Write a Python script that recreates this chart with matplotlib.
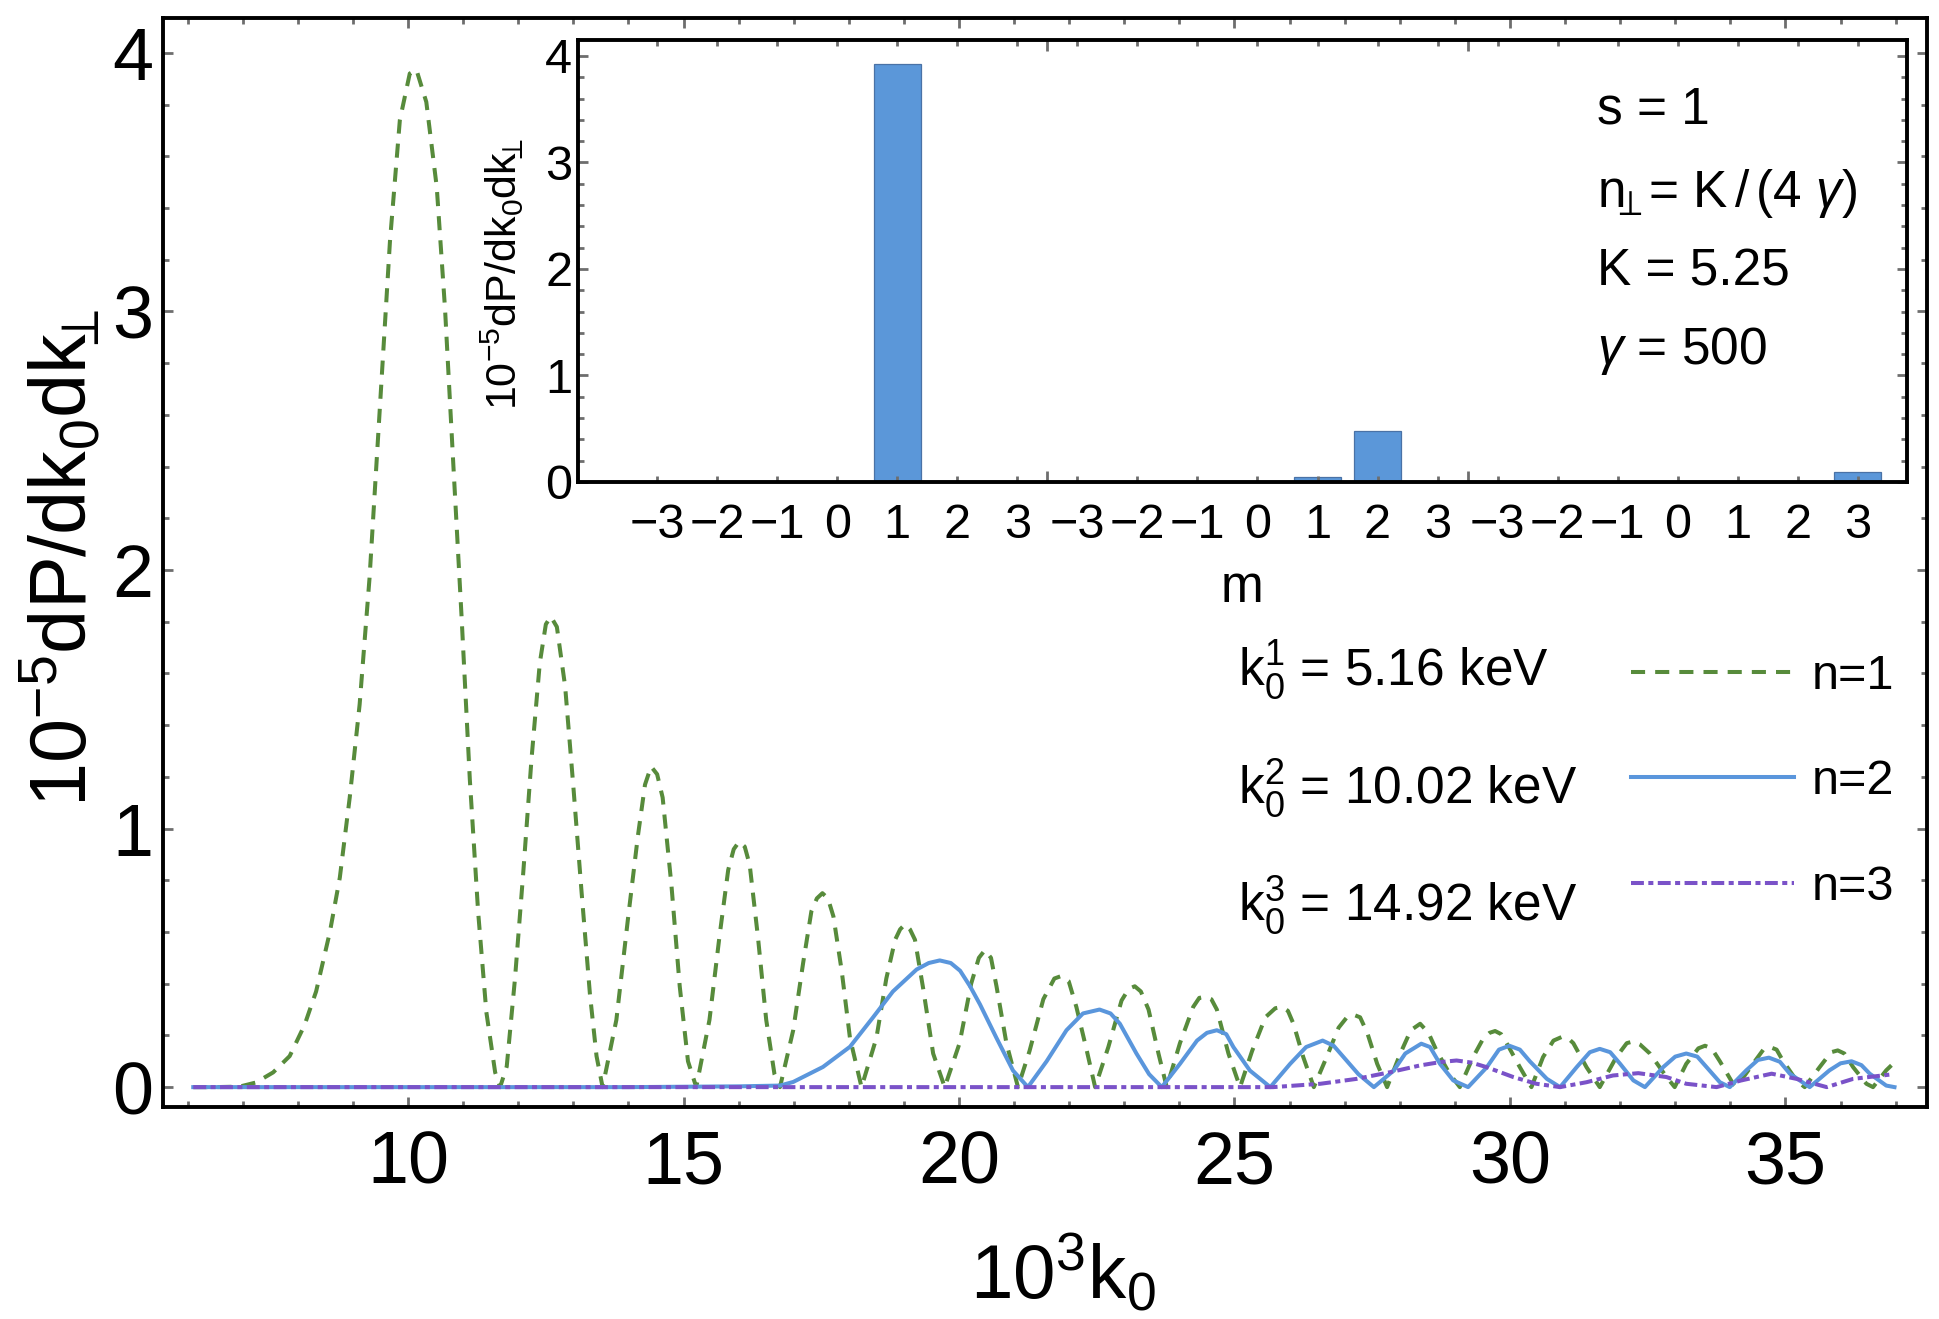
import matplotlib
matplotlib.use("Agg")
import matplotlib.pyplot as plt
from matplotlib.ticker import FixedLocator

plt.rcParams['font.family'] = ['Liberation Sans', 'DejaVu Sans']
plt.rcParams['mathtext.fontset'] = 'custom'
plt.rcParams['mathtext.rm'] = 'Liberation Sans'
plt.rcParams['mathtext.it'] = 'Liberation Sans:italic'
plt.rcParams['mathtext.sf'] = 'Liberation Sans'
plt.rcParams['mathtext.bf'] = 'Liberation Sans:bold'

# ---------------- data ----------------
n1_x = [6.1, 6.5, 6.94, 7.24, 7.55, 7.85, 8.12, 8.33, 8.58, 8.76, 8.94, 9.12, 9.30, 9.48,
        9.67, 9.85, 10.03, 10.15, 10.33, 10.52, 10.67, 10.82, 10.97, 11.12, 11.27, 11.42,
        11.58, 11.67, 11.79, 11.94, 12.09, 12.24, 12.39, 12.50, 12.59, 12.70, 12.85, 13.0,
        13.15, 13.3, 13.42, 13.53, 13.78, 13.99, 14.17, 14.30, 14.41, 14.52, 14.62, 14.78,
        14.93, 15.08, 15.23, 15.47, 15.65, 15.81, 15.91, 16.01, 16.11, 16.2, 16.35, 16.5,
        16.65, 16.75, 16.99, 17.17, 17.32, 17.42, 17.52, 17.62, 17.72, 17.87, 18.02, 18.23,
        18.5, 18.68, 18.84, 18.93, 19.02, 19.11, 19.2, 19.35, 19.53, 19.74, 20.01, 20.22,
        20.36, 20.47, 20.58, 20.68, 20.86, 21.07, 21.28, 21.53, 21.73, 21.86, 21.99, 22.13,
        22.32, 22.47, 22.71, 22.95, 23.08, 23.19, 23.30, 23.44, 23.62, 23.77, 24.01, 24.25,
        24.36, 24.47, 24.58, 24.68, 24.89, 25.1, 25.32, 25.56, 25.74, 25.86, 25.97, 26.07,
        26.25, 26.44, 26.68, 26.89, 27.04, 27.16, 27.28, 27.41, 27.59, 27.77, 28.01, 28.2,
        28.37, 28.52, 28.67, 28.91, 29.09, 29.33, 29.52, 29.63, 29.73, 29.84, 29.94, 30.18,
        30.39, 30.6, 30.79, 30.94, 31.05, 31.15, 31.39, 31.63, 31.93, 32.12, 32.24, 32.36,
        32.54, 32.84, 32.99, 33.2, 33.42, 33.54, 33.66, 33.81, 34.05, 34.11, 34.41, 34.60,
        34.72, 34.84, 34.96, 35.2, 35.35, 35.62, 35.83, 35.95, 36.07, 36.23, 36.47, 36.59,
        36.83, 37.0]
n1_y = [0.0, 0.0, 0.002, 0.018, 0.057, 0.12, 0.24, 0.37, 0.60, 0.81, 1.12, 1.48, 1.97, 2.60,
        3.27, 3.74, 3.92, 3.935, 3.81, 3.48, 3.01, 2.41, 1.82, 1.19, 0.68, 0.29,
        0.057, 0.0, 0.08, 0.42, 0.83, 1.27, 1.64, 1.79, 1.82, 1.78, 1.55, 1.16,
        0.75, 0.36, 0.12, 0.0, 0.26, 0.65, 0.97, 1.17, 1.24, 1.21, 1.12, 0.78,
        0.39, 0.10, 0.0, 0.26, 0.58, 0.84, 0.92, 0.95, 0.93, 0.86, 0.58, 0.26,
        0.05, 0.0, 0.22, 0.48, 0.68, 0.73, 0.75, 0.73, 0.66, 0.45, 0.19, 0.0,
        0.19, 0.42, 0.57, 0.61, 0.63, 0.61, 0.57, 0.38, 0.13, 0.0, 0.17, 0.40,
        0.50, 0.53, 0.50, 0.39, 0.17, 0.0, 0.14, 0.34, 0.42, 0.43, 0.41, 0.31,
        0.14, 0.0, 0.155, 0.335, 0.38, 0.39, 0.37, 0.30, 0.13, 0.0, 0.17, 0.31,
        0.345, 0.35, 0.34, 0.30, 0.13, 0.0, 0.14, 0.27, 0.305, 0.31, 0.295, 0.245,
        0.115, 0.0, 0.12, 0.23, 0.27, 0.28, 0.27, 0.21, 0.09, 0.0, 0.13, 0.22,
        0.245, 0.21, 0.14, 0.05, 0.0, 0.116, 0.19, 0.21, 0.217, 0.205, 0.17, 0.077,
        0.0, 0.116, 0.18, 0.194, 0.19, 0.17, 0.077, 0.0, 0.116, 0.17, 0.177, 0.165,
        0.13, 0.04, 0.0, 0.09, 0.15, 0.16, 0.15, 0.10, 0.013, 0.0, 0.09, 0.145,
        0.155, 0.145, 0.10, 0.026, 0.0, 0.077, 0.135, 0.142, 0.13, 0.077, 0.013, 0.0,
        0.065, 0.10]

n2_x = [6.1, 10.0, 14.0, 16.0, 16.75, 16.99, 17.53, 18.02, 18.44, 18.8, 19.23, 19.45, 19.65,
        19.85, 20.02, 20.2, 20.38, 20.68, 20.98, 21.25, 21.59, 21.95, 22.25, 22.55, 22.75,
        22.92, 23.22, 23.45, 23.68, 24.01, 24.32, 24.5, 24.68, 24.85, 24.98, 25.28, 25.65,
        26.01, 26.3, 26.6, 26.8, 26.98, 27.25, 27.53, 27.89, 28.1, 28.39, 28.55, 28.73,
        28.97, 29.24, 29.58, 29.8, 29.99, 30.18, 30.36, 30.67, 30.91, 31.21, 31.45, 31.63,
        31.82, 32.0, 32.24, 32.45, 32.78, 33.0, 33.2, 33.4, 33.57, 33.81, 33.99, 34.29,
        34.5, 34.7, 34.9, 35.08, 35.44, 35.8, 36.0, 36.2, 36.38, 36.53, 36.83, 36.98]
n2_y = [0.0, 0.0, 0.0, 0.003, 0.006, 0.02, 0.078, 0.156, 0.27, 0.37, 0.455, 0.48, 0.49,
        0.48, 0.45, 0.39, 0.32, 0.19, 0.064, 0.0, 0.10, 0.22, 0.285, 0.30, 0.285,
        0.245, 0.13, 0.05, 0.0, 0.09, 0.18, 0.21, 0.22, 0.205, 0.155, 0.064, 0.0,
        0.09, 0.155, 0.18, 0.16, 0.116, 0.05, 0.0, 0.064, 0.13, 0.168, 0.155, 0.09,
        0.026, 0.0, 0.077, 0.145, 0.16, 0.145, 0.10, 0.032, 0.0, 0.077, 0.135, 0.148,
        0.135, 0.09, 0.026, 0.0, 0.077, 0.118, 0.13, 0.118, 0.077, 0.019, 0.0, 0.065,
        0.105, 0.114, 0.098, 0.052, 0.0, 0.065, 0.092, 0.10, 0.085, 0.052, 0.006, 0.0]

n3_x = [6.1, 20.0, 25.7, 26.56, 27.22, 27.83, 28.37, 28.74, 29.03, 29.3, 29.58, 30.06, 30.48,
        30.91, 31.39, 31.87, 32.33, 32.84, 33.2, 33.75, 34.2, 34.75, 35.2, 35.75, 36.23, 36.92]
n3_y = [0.0, 0.0, 0.0, 0.013, 0.032, 0.058, 0.084, 0.097, 0.103, 0.095, 0.077, 0.039, 0.013,
        0.0, 0.019, 0.045, 0.054, 0.039, 0.013, 0.0, 0.026, 0.052, 0.032, 0.0, 0.032, 0.049]

bar_labels = ['\u22123', '\u22122', '\u22121', '0', '1', '2', '3'] * 3
bar_values = [0, 0, 0, 0, 3.92, 0, 0,
              0, 0, 0, 0, 0.048, 0.48, 0,
              0, 0, 0, 0, 0.005, 0, 0.093]

series_labels = ['n=1', 'n=2', 'n=3']
k0_texts = [r'k$_0^1$ = 5.16 keV', r'k$_0^2$ = 10.02 keV', r'k$_0^3$ = 14.92 keV']
inset_texts = ['s = 1', r'n$_{\!\!\!\perp\!\!\!}$ = K$\,$/$\,$(4 $\gamma$)', 'K = 5.25',
               r'$\gamma$ = 500']
ylabel_text = r'10$^{-5}$dP/dk$_0$dk$_{\!\!\!\perp}$'

# ---------------- style ----------------
c_green = '#578B3B'
c_blue = '#5A96DC'
c_purple = '#7A52C8'
c_bar = '#5B97D9'
tick_c = '#6E6E6E'
lw = 2.9

fig = plt.figure(figsize=(19.4, 13.19), dpi=100)
ax = fig.add_axes([0.0840, 0.1607, 0.9093, 0.8257])

ax.plot(n1_x, n1_y, color=c_green, lw=lw, dashes=(3.5, 2.5), label=series_labels[0])
ax.plot(n2_x, n2_y, color=c_blue, lw=lw, label=series_labels[1])
ax.plot(n3_x, n3_y, color=c_purple, lw=lw, dashes=(3.2, 1.1, 1.25, 1.1), label=series_labels[2])

ax.set_xlim(5.55, 37.57)
ax.set_ylim(-0.077, 4.135)
ax.xaxis.set_major_locator(FixedLocator([10, 15, 20, 25, 30, 35]))
ax.xaxis.set_minor_locator(FixedLocator(list(range(6, 38))))
ax.yaxis.set_major_locator(FixedLocator([0, 1, 2, 3, 4]))
ax.yaxis.set_minor_locator(FixedLocator([i * 0.2 for i in range(21)]))
ax.tick_params(which='both', direction='in', top=True, right=True, color=tick_c, width=2.0)
ax.tick_params(which='major', length=7.5, labelsize=53)
ax.tick_params(which='minor', length=4.5)
ax.tick_params(axis='x', which='major', pad=16)
ax.tick_params(axis='y', which='major', pad=7)
for s in ax.spines.values():
    s.set_linewidth(2.8)

ax.set_xlabel(r'10$^3$k$_0$', fontsize=55, va='center')
ax.xaxis.set_label_coords(0.51, -0.153)
ax.set_ylabel(ylabel_text, fontsize=57, va='center', ha='center')
ax.yaxis.set_label_coords(-0.0575, 0.504)

for t, yb in zip(k0_texts, [0.3875, 0.2782, 0.1708]):
    ax.text(0.6094, yb, t, transform=ax.transAxes, fontsize=37, va='baseline', ha='left')

leg = ax.legend(loc='upper right', bbox_to_anchor=(0.9813, 0.416), frameon=False,
                fontsize=35, handlelength=3.35, handletextpad=0.37, labelspacing=1.24,
                borderpad=0, borderaxespad=0)

# ---------------- inset ----------------
axin = fig.add_axes([0.2979, 0.6346, 0.6851, 0.3351])
pos = list(range(len(bar_values)))
axin.bar(pos, bar_values, width=0.78, color=c_bar, edgecolor='#4A72A6', linewidth=0.9)
axin.set_xlim(-1.32, 20.82)
axin.set_ylim(0, 4.15)
axin.set_xticks(pos)
axin.set_xticklabels(bar_labels)
axin.xaxis.set_minor_locator(FixedLocator([6.5, 13.5]))
axin.yaxis.set_major_locator(FixedLocator([0, 1, 2, 3, 4]))
axin.yaxis.set_minor_locator(FixedLocator([i * 0.2 for i in range(21)]))
axin.tick_params(which='both', direction='in', top=True, right=True, color=tick_c, width=2.0)
axin.tick_params(axis='x', which='major', length=4.5, labelsize=35, pad=15)
axin.tick_params(axis='x', which='minor', length=8)
axin.tick_params(axis='y', which='major', length=7, labelsize=35, pad=4)
axin.tick_params(axis='y', which='minor', length=4.5)
for s in axin.spines.values():
    s.set_linewidth(2.8)
axin.set_xlabel('m', fontsize=37, va='center')
axin.xaxis.set_label_coords(0.4996, -0.242)
axin.set_ylabel(ylabel_text, fontsize=31, va='center', ha='center')
axin.yaxis.set_label_coords(-0.057, 0.47)

for t, yc in zip(inset_texts, [0.842, 0.652, 0.475, 0.296]):
    axin.text(0.767, yc, t, transform=axin.transAxes, fontsize=37, va='center', ha='left')

fig.savefig('out.png', dpi=100)
